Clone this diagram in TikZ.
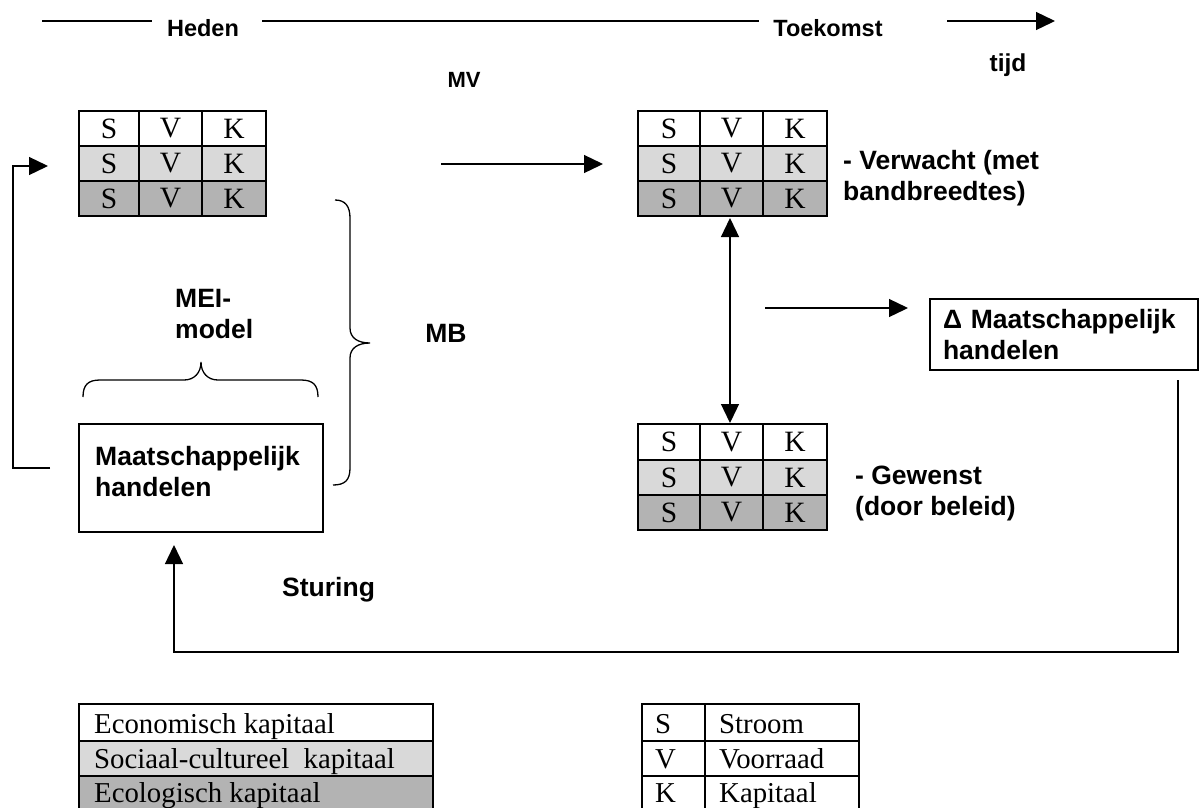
\documentclass[tikz,border=0pt]{standalone}
\usepackage{fontspec}
\setmainfont{Liberation Sans}
\newfontfamily\serifTimes{Liberation Serif}
\usetikzlibrary{arrows.meta}
\definecolor{lightg}{RGB}{217,217,217}
\definecolor{darkg}{RGB}{179,179,179}
\tikzset{
 ln/.style={line width=1.3pt},
 arr/.style={ln,-{Triangle[length=19pt,width=18pt]}},
 darr/.style={ln,{Triangle[length=19pt,width=18pt]}-{Triangle[length=19pt,width=18pt]}},
 cell/.style={draw,line width=1.6pt,inner sep=0pt,font=\serifTimes\fontsize{29.5}{30}\selectfont},
 lab/.style={font=\bfseries\fontsize{26.5}{31}\selectfont,align=left,inner sep=0pt},
 hdr/.style={font=\bfseries\fontsize{23.5}{28}\selectfont,inner sep=0pt},
 boxed/.style={draw,line width=1.6pt},
 lframe/.style={draw,line width=1.6pt},
 ltext/.style={inner sep=0pt,anchor=base west,font=\serifTimes\fontsize{28.8}{30}\selectfont},
}
\newcommand{\svkgrid}[9]{%
  \foreach \r/\ya/\yb/\col in {1/#6/#7/white,2/#7/#8/lightg,3/#8/#9/darkg}{%
    \foreach \c/\xa/\xb/\t in {1/#2/#3/S,2/#3/#4/V,3/#4/#5/K}{%
      \node[cell,fill=\col,minimum width={\xb-\xa},minimum height={\yb-\ya}] (#1-\r-\c) at ({(\xa+\xb)/2},{(\ya+\yb)/2}) {\t};
    }}}
\begin{document}
\begin{tikzpicture}[x=1pt,y=-1pt]
\useasboundingbox (0,0) rectangle (1200,807);
\clip (0,0) rectangle (1200,807);

% time axis
\node[hdr] (heden) at (203,28) {Heden};
\node[hdr] (toekomst) at (828,28) {Toekomst};
\node[hdr,font=\bfseries\fontsize{24.5}{28}\selectfont] (tijd) at (1008,65) {tijd};
\node[hdr,font=\bfseries\fontsize{22}{26}\selectfont] (mv) at (464,80) {MV};
\coordinate (t0) at (42,21);
\coordinate (t1) at (152,21);
\coordinate (t2) at (262,21);
\coordinate (t3) at (759,21);
\coordinate (t4) at (947,21);
\coordinate (t5) at (1055,21);
\draw[ln] (t0) -- (t1);
\draw[ln] (t2) -- (t3);
\draw[arr] (t4) -- (t5);

% tables
\svkgrid{lt}{79}{139}{202}{266}{111}{146}{181}{216}
\svkgrid{rt}{638}{700}{763}{827}{111}{146}{181}{216}
\svkgrid{rb}{638}{700}{763}{827}{424}{460}{495}{530}

\node[lab,anchor=west] (verw) at (843,178) {- Verwacht (met\\bandbreedtes)};
\node[lab,anchor=west] (gew) at (855,493) {- Gewenst\\(door beleid)};

% arrows between tables
\coordinate (m0) at (441,164);
\coordinate (m1) at (603,164);
\draw[arr] (m0) -- (m1);
\coordinate (v0) at (730,218);
\coordinate (v1) at (730,423);
\draw[darr] (v0) -- (v1);

% delta box
\node[boxed,font=\bfseries\fontsize{26.5}{31}\selectfont,align=left,inner ysep=0pt,inner xsep=13pt,
      minimum width=268,minimum height=71,text width=242] (dm) at (1064,334.5) {Δ Maatschappelijk\\handelen};
\coordinate (d0) at (765,308);
\coordinate (d1) at (908,308);
\draw[arr] (d0) -- (d1);

% Maatschappelijk handelen
\node[boxed,minimum width=244,minimum height=108,inner sep=0pt] (mh) at (201,478) {};
\node[lab,anchor=west] (mhl) at (95,472) {Maatschappelijk\\handelen};

% MEI-model
\node[lab,anchor=west] (mei) at (175,314) {MEI-\\model};
\draw[ln] (83,397) .. controls (83,385) and (88,380) .. (100,380) -- (184,380)
  .. controls (194,380) and (201,373) .. (201,362)
  .. controls (201,373) and (208,380) .. (218,380) -- (301,380)
  .. controls (313,380) and (318,385) .. (318,397);

% MB brace
\draw[ln] (335,200) .. controls (345,200) and (350,206) .. (350,218) -- (350,328)
  .. controls (350,338) and (358,343) .. (370,343)
  .. controls (358,343) and (350,348) .. (350,358) -- (350,468)
  .. controls (350,480) and (345,485) .. (333,485);
\node[lab] (mb) at (446,333) {MB};

% loop left
\coordinate (l0) at (50,468);
\coordinate (l1) at (48,166);
\draw[arr] (l0) -- (13,468) -- (13,166) -- (l1);

% feedback
\node[lab,anchor=west] (st) at (282,590) {Sturing};
\coordinate (f0) at (1178,380);
\coordinate (f1) at (174,545);
\draw[arr] (f0) -- (1178,652) -- (174,652) -- (f1);

% legend: capital types
\draw[lframe,fill=white] (79,704) rectangle (433,741);
\draw[lframe,fill=lightg] (79,741) rectangle (433,776);
\draw[lframe,fill=darkg] (79,776) rectangle (433,813);
\node[ltext] (le1) at (94,733) {Economisch kapitaal};
\node[ltext] (le2) at (94,768) {Sociaal-cultureel\ \ kapitaal};
\node[ltext] (le3) at (94,802) {Ecologisch kapitaal};

% legend: S V K
\draw[lframe] (642,704) rectangle (705,741);
\draw[lframe] (705,704) rectangle (859,741);
\draw[lframe] (642,741) rectangle (705,776);
\draw[lframe] (705,741) rectangle (859,776);
\draw[lframe] (642,776) rectangle (705,813);
\draw[lframe] (705,776) rectangle (859,813);
\node[ltext] (ls1) at (655,733) {S};
\node[ltext] (ls2) at (719,733) {Stroom};
\node[ltext] (lv1) at (655,768) {V};
\node[ltext] (lv2) at (719,768) {Voorraad};
\node[ltext] (lk1) at (655,802) {K};
\node[ltext] (lk2) at (719,802) {Kapitaal};
\end{tikzpicture}
\end{document}
